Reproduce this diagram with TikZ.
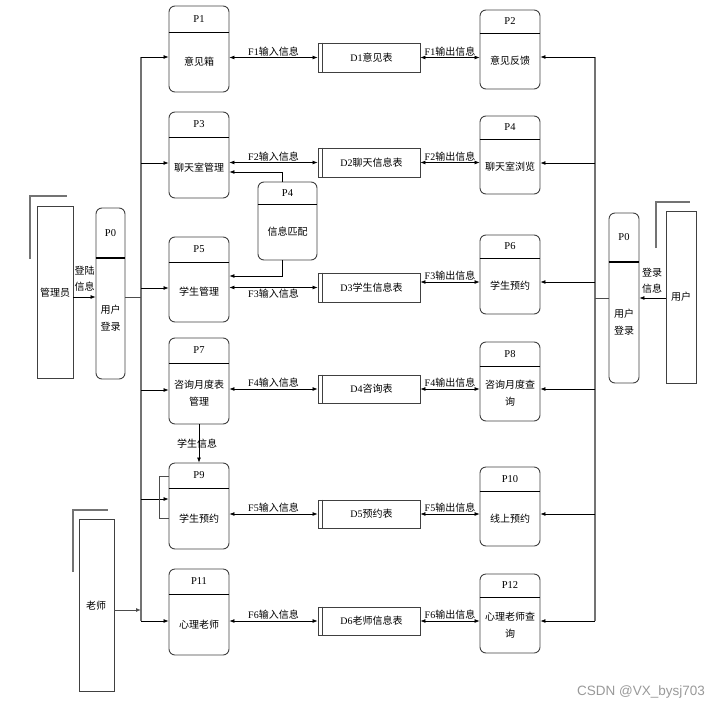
\documentclass[tikz,border=0pt]{standalone}
\usepackage{fontspec}
\setmainfont{Liberation Serif}
\newfontfamily\cjk{Noto Sans CJK SC}
\newfontfamily\wmfont{Liberation Sans}
\usetikzlibrary{arrows.meta}
\newcommand\zh[1]{{\cjk #1}}
\tikzset{
  procshape/.style={draw=black!75, line width=0.9pt, rounded corners=6pt, inner sep=0pt},
  hdr/.style={draw=black, line width=0.8pt},
  hdrthick/.style={draw=black, line width=1.5pt},
  txt/.style={inner sep=1pt, font=\fontsize{10}{17}\selectfont, align=center},
  lbl/.style={inner sep=1pt, font=\fontsize{10}{16}\selectfont, align=center},
  dsshape/.style={draw=black!75, line width=0.9pt, minimum width=102pt, inner sep=0pt},
  arr/.style={draw=black, line width=0.7pt, -{Latex[length=5pt,width=4pt]}},
  dbl/.style={draw=black, line width=0.7pt, {Latex[length=5pt,width=4pt]}-{Latex[length=5pt,width=4pt]}},
  bus/.style={draw=black!55, line width=1.3pt},
  link/.style={draw=black!70, line width=0.8pt},
  entshape/.style={draw=black!75, line width=0.9pt, inner sep=0pt},
  shadowline/.style={draw=black!55, line width=1.4pt},
}
% #1 name, #2 cx, #3 width, #4 top, #5 bottom, #6 header y, #7 id, #8 body, #9 header style
\newcommand\procbox[9]{%
  \node[procshape, minimum width=#3, minimum height={#5-#4}] (#1) at (#2,{(#4+#5)/2}) {};
  \draw[#9] (#1.west |- 0,#6) -- (#1.east |- 0,#6);
  \node[txt, font=\fontsize{10.5}{17}\selectfont] (#1h) at (#2,{(#4+#6)/2}) {#7};
  \node[txt] (#1b) at (#2,{(#6+#5)/2}) {#8};
}
% #1 name, #2 top, #3 bottom, #4 label
\newcommand\dstore[4]{%
  \node[dsshape, minimum height={#3-#2}] (#1) at (369,{(#2+#3)/2}) {};
  \draw[draw=black!75, line width=0.9pt] ([xshift=5pt]#1.north west) -- ([xshift=5pt]#1.south west);
  \node[txt] (#1t) at ([xshift=2.5pt]#1.center) {#4};
}
\begin{document}
\begin{tikzpicture}[x=1pt,y=-1pt]
\useasboundingbox (0,0) rectangle (727,709);

% left processes
\procbox{p1}{199}{60}{6}{92}{32}{P1}{\zh{意见箱}}{hdr}
\procbox{p3}{199}{60}{112}{198}{137}{P3}{\zh{聊天室管理}}{hdr}
\procbox{p5}{199}{60}{237}{322}{262}{P5}{\zh{学生管理}}{hdr}
\procbox{p7}{199}{60}{338}{424}{363}{P7}{\zh{咨询月度表}\\\zh{管理}}{hdr}
\procbox{p9}{199}{60}{463}{549}{488}{P9}{\zh{学生预约}}{hdr}
\procbox{p11}{199}{60}{569}{655}{594}{P11}{\zh{心理老师}}{hdr}
% middle process
\procbox{pm}{287.5}{59}{182}{260}{204}{P4}{\zh{信息匹配}}{hdr}
% right processes
\procbox{p2}{510}{60}{10}{89}{33}{P2}{\zh{意见反馈}}{hdr}
\procbox{p4}{510}{60}{116}{194}{139}{P4}{\zh{聊天室浏览}}{hdr}
\procbox{p6}{510}{60}{235}{314}{258}{P6}{\zh{学生预约}}{hdr}
\procbox{p8}{510}{60}{342}{421}{366}{P8}{\zh{咨询月度查}\\\zh{询}}{hdr}
\procbox{p10}{510}{60}{467}{546}{491}{P10}{\zh{线上预约}}{hdr}
\procbox{p12}{510}{60}{574}{653}{597}{P12}{\zh{心理老师查}\\\zh{询}}{hdr}
% login processes
\procbox{p0l}{110.5}{29}{208}{379}{258}{P0}{\zh{用户}\\\zh{登录}}{hdrthick}
\procbox{p0r}{624}{30}{213}{383}{262}{P0}{\zh{用户}\\\zh{登录}}{hdrthick}

% data stores
\dstore{d1}{43}{72}{D1\zh{意见表}}
\dstore{d2}{148}{177}{D2\zh{聊天信息表}}
\dstore{d3}{273}{302}{D3\zh{学生信息表}}
\dstore{d4}{375}{403}{D4\zh{咨询表}}
\dstore{d5}{500}{528}{D5\zh{预约表}}
\dstore{d6}{607}{635}{D6\zh{老师信息表}}

% external entities
\node[entshape, minimum width=36pt, minimum height=172pt] (adm) at (55,292) {};
\node[txt] (admt) at (55,293) {\zh{管理员}};
\draw[shadowline] (30,259) -- (30,196) -- (67,196);
\node[entshape, minimum width=35pt, minimum height=172pt] (tch) at (96.5,605) {};
\node[txt] (tcht) at (96,606) {\zh{老师}};
\draw[shadowline] (73,572) -- (73,510) -- (108,510);
\node[entshape, minimum width=30pt, minimum height=172pt] (usr) at (681,297) {};
\node[txt] (usrt) at (681,297) {\zh{用户}};
\draw[shadowline] (656,248) -- (656,202) -- (690,202);

% buses
\coordinate (bl) at (141,0);
\coordinate (br) at (595,0);
\draw[bus] (bl |- 0,57) -- (bl |- 0,621);
\draw[bus] (br |- 0,57) -- (br |- 0,621);

% left bus branches
\draw[arr] (bl |- 0,57) -- (p1.west |- 0,57);
\draw[arr] (bl |- 0,163) -- (p3.west |- 0,163);
\draw[arr] (bl |- 0,288) -- (p5.west |- 0,288);
\draw[arr] (bl |- 0,390) -- (p7.west |- 0,390);
\draw[arr] (bl |- 0,499) -- (p9.west |- 0,499);
\draw[arr] (bl |- 0,621) -- (p11.west |- 0,621);
\draw[link] (p0l.east |- 0,297) -- (bl |- 0,297);
\draw[arr] (adm.east |- 0,297) -- (p0l.west |- 0,297);
\node[lbl] (admlbl) at (84.5,279) {\zh{登陆}\\\zh{信息}};
\draw[arr, draw=black!70, line width=1pt] (tch.east |- 0,610) -- (bl |- 0,610);

% right bus branches
\draw[arr] (br |- 0,57) -- (p2.east |- 0,57);
\draw[arr] (br |- 0,163) -- (p4.east |- 0,163);
\draw[arr] (br |- 0,282) -- (p6.east |- 0,282);
\draw[arr] (br |- 0,389) -- (p8.east |- 0,389);
\draw[arr] (br |- 0,514) -- (p10.east |- 0,514);
\draw[arr] (br |- 0,621) -- (p12.east |- 0,621);
\draw[link] (p0r.west |- 0,298) -- (br |- 0,298);
\draw[arr] (usr.west |- 0,298) -- (p0r.east |- 0,298);
\node[lbl] (usrlbl) at (652,280.5) {\zh{登录}\\\zh{信息}};

% flows left
\draw[dbl] (p1.east |- d1.west) -- (d1.west) node[lbl, midway, above] (f1i) {F1\zh{输入信息}};
\draw[dbl] (p3.east |- d2.west) -- (d2.west) node[lbl, midway, above] (f2i) {F2\zh{输入信息}};
\draw[dbl] (p5.east |- d3.west) -- (d3.west) node[lbl, midway, below] (f3i) {F3\zh{输入信息}};
\draw[dbl] (p7.east |- d4.west) -- (d4.west) node[lbl, midway, above] (f4i) {F4\zh{输入信息}};
\draw[dbl] (p9.east |- d5.west) -- (d5.west) node[lbl, midway, above] (f5i) {F5\zh{输入信息}};
\draw[dbl] (p11.east |- d6.west) -- (d6.west) node[lbl, midway, above] (f6i) {F6\zh{输入信息}};
% flows right
\draw[dbl] (d1.east) -- (p2.west |- d1.east) node[lbl, midway, above] (f1o) {F1\zh{输出信息}};
\draw[dbl] (d2.east) -- (p4.west |- d2.east) node[lbl, midway, above] (f2o) {F2\zh{输出信息}};
\draw[dbl] ([yshift=5.5pt]d3.east) -- (p6.west |- 0,282) node[lbl, midway, above] (f3o) {F3\zh{输出信息}};
\draw[dbl] (d4.east) -- (p8.west |- d4.east) node[lbl, midway, above] (f4o) {F4\zh{输出信息}};
\draw[dbl] (d5.east) -- (p10.west |- d5.east) node[lbl, midway, above] (f5o) {F5\zh{输出信息}};
\draw[dbl] (d6.east) -- (p12.west |- d6.east) node[lbl, midway, above] (f6o) {F6\zh{输出信息}};

% P4 (match) links
\draw[arr] ([xshift=-5.5pt]pm.north) |- (p3.east |- 0,172);
\draw[arr] ([xshift=-5.5pt]pm.south) |- (p5.east |- 0,276);

% P7 -> P9
\draw[arr] (p7.south) -- (p9.north) node[lbl, midway, xshift=-2pt] (stinfo) {\zh{学生信息}};
% P9 bracket
\draw[link] (p9.west |- 0,476) -- (159,476) -- (159,518) -- (p9.west |- 0,518);

% watermark
\node[inner sep=0pt, text=black!40, font=\wmfont\fontsize{13.5}{15}\selectfont] (wm) at (641,692) {CSDN @VX\_bysj703};
\end{tikzpicture}
\end{document}
